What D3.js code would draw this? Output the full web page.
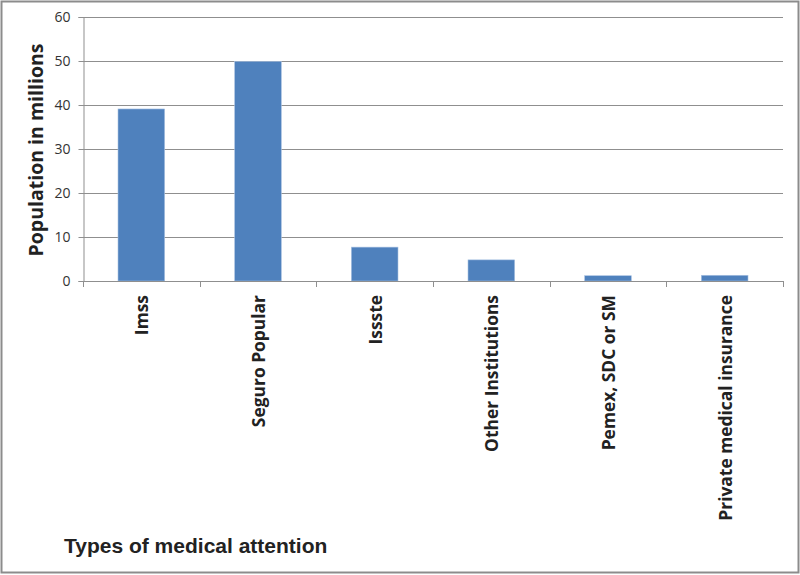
<!DOCTYPE html>
<html>
<head>
<meta charset="utf-8">
<script src="https://cdn.jsdelivr.net/npm/d3@7"></script>
<style>
  body { margin: 0; background: #fff; }
  svg { display: block; }
</style>
</head>
<body>
<svg></svg>
<script>
// data
let categories = ["Imss", "Seguro Popular", "Issste", "Other Institutions", "Pemex, SDC or SM", "Private medical insurance"];
let values = [39.1, 49.9, 7.7, 4.8, 1.2, 1.3];
let yTicks = [0, 10, 20, 30, 40, 50, 60];

let svgWidth = 800;
let svgHeight = 575;

let svg = d3.select("svg")
	.attr("width", svgWidth)
	.attr("height", svgHeight);

// outer frame
svg.append("rect")
	.attr("x", 1.5).attr("y", 1.5)
	.attr("width", svgWidth - 3).attr("height", svgHeight - 4)
	.attr("fill", "#fff")
	.attr("stroke", "#8c8c8c")
	.attr("stroke-width", 2);

let plotLeft = 83, plotRight = 783, plotTop = 17, plotBottom = 281;

let x = d3.scaleBand()
	.domain(categories)
	.range([plotLeft, plotRight])
	.paddingInner(0.6)
	.paddingOuter(0.3);

let y = d3.scaleLinear()
	.domain([0, 60])
	.range([plotBottom, plotTop]);

// gridlines
svg.append("g")
	.selectAll("line")
	.data(yTicks)
	.enter()
	.append("line")
	.attr("x1", plotLeft)
	.attr("x2", plotRight)
	.attr("y1", d => Math.round(y(d)) + 0.5)
	.attr("y2", d => Math.round(y(d)) + 0.5)
	.attr("stroke", "#8f8f8f")
	.attr("stroke-width", 1);

// bars
svg.append("g")
	.selectAll("rect")
	.data(values)
	.enter()
	.append("rect")
	.attr("x", (d, i) => x(categories[i]))
	.attr("y", d => y(d))
	.attr("width", x.bandwidth())
	.attr("height", d => plotBottom - y(d))
	.attr("fill", "#4f81bd")
	.attr("stroke", "#a9c2e2")
	.attr("stroke-width", 0.6);

// y axis
let yAxis = svg.append("g")
	.attr("transform", "translate(" + (plotLeft + 0.5) + ",0)")
	.call(d3.axisLeft(y).tickValues(yTicks).tickSize(5).tickPadding(8));
yAxis.select(".domain").attr("stroke", "#8f8f8f");
yAxis.selectAll(".tick line").attr("stroke", "#8f8f8f");
yAxis.selectAll("text")
	.attr("font-family", "'Open Sans', sans-serif")
	.attr("font-size", 14)
	.attr("fill", "#333");

// x axis: tick marks on band boundaries
let edges = categories.map(c => x(c) - x.step() * x.paddingInner() / 2);
edges.push(plotRight);
svg.append("line")
	.attr("x1", plotLeft).attr("x2", plotRight)
	.attr("y1", plotBottom + 0.5).attr("y2", plotBottom + 0.5)
	.attr("stroke", "#8f8f8f");
svg.append("g")
	.selectAll("line")
	.data(edges)
	.enter()
	.append("line")
	.attr("x1", d => Math.round(d) + 0.5)
	.attr("x2", d => Math.round(d) + 0.5)
	.attr("y1", plotBottom)
	.attr("y2", plotBottom + 6)
	.attr("stroke", "#8f8f8f");

// x labels (rotated)
svg.append("g")
	.selectAll("text")
	.data(categories)
	.enter()
	.append("text")
	.text(d => d)
	.attr("transform", d => "translate(" + (x(d) + x.bandwidth() / 2 + 7) + "," + (plotBottom + 14) + ") rotate(-90)")
	.attr("text-anchor", "end")
	.attr("font-family", "'Open Sans', sans-serif")
	.attr("font-weight", "bold")
	.attr("font-size", 17.4)
	.attr("fill", "#222");

// axis titles
svg.append("text")
	.text("Population in millions")
	.attr("transform", "translate(43,150) rotate(-90)")
	.attr("text-anchor", "middle")
	.attr("font-family", "'Open Sans', sans-serif")
	.attr("font-weight", "bold")
	.attr("font-size", 19.5)
	.attr("fill", "#222");

svg.append("text")
	.text("Types of medical attention")
	.attr("x", 64)
	.attr("y", 553)
	.attr("font-family", "'Liberation Sans Narrow', 'Liberation Sans', sans-serif")
	.attr("font-weight", "bold")
	.attr("font-size", 21)
	.attr("fill", "#222");
</script>
</body>
</html>
